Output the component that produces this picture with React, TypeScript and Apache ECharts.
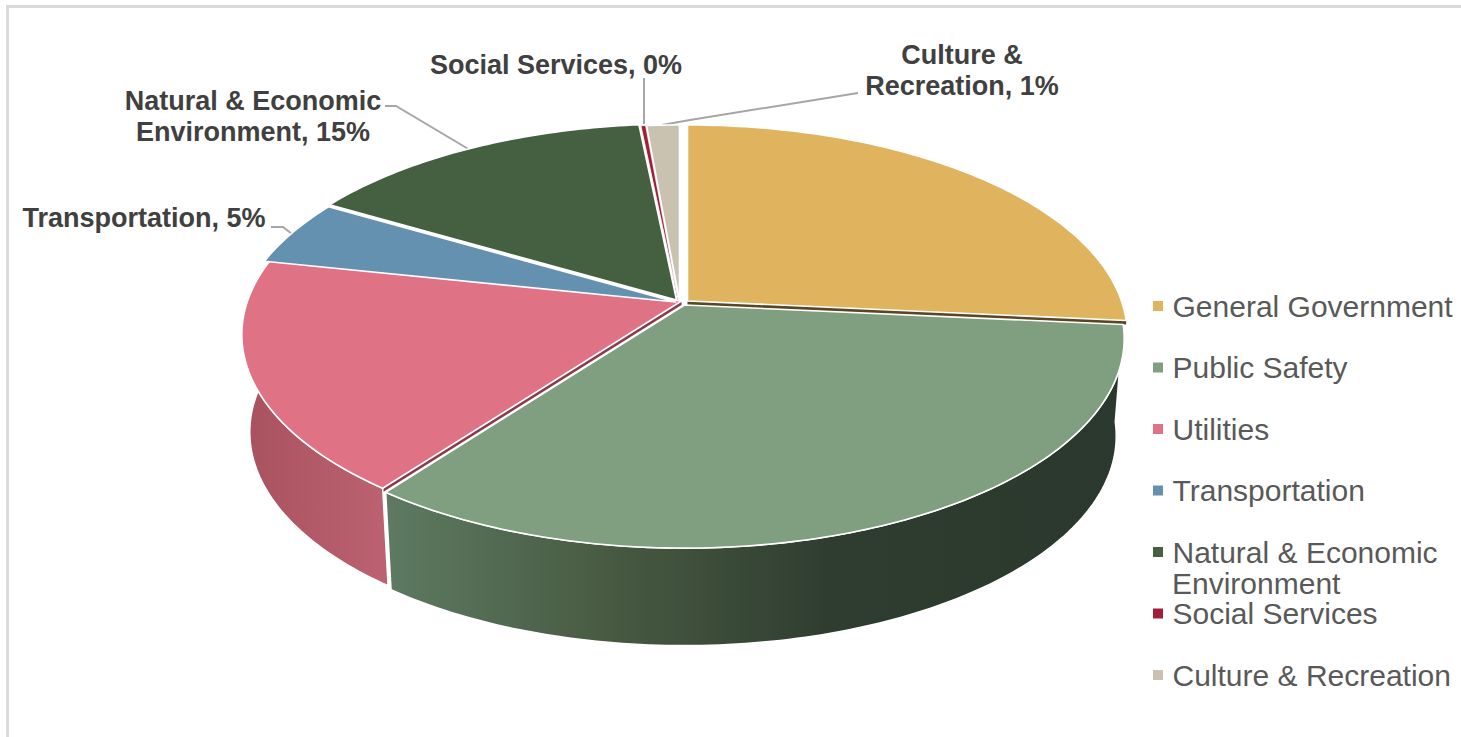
import React, { useEffect, useRef } from "react";
import * as echarts from "echarts";

const categories = [
  "General Government",
  "Public Safety",
  "Utilities",
  "Transportation",
  "Natural & Economic Environment",
  "Social Services",
  "Culture & Recreation",
];
// Shares (labels round them).
const shares = [26.5, 33.75, 18.05, 5.1, 15.0, 0.2, 1.4];
const colors = ["#E0B35F", "#7F9F80", "#E07285", "#6491B0", "#446041", "#A01E38", "#C9C2B1"];
const edgeColors = ["#5A4626", "#55705A", "#8A3A4C", "#3F5E72", "#2D3F2B", "#6A1425", "#8A8578"];
const sliceShift = [[4, -2], [1, 2], [-2, -2], [-8, -1], [-7, -3], [-5, -2], [-4, -2]];
const frontWalls = [1, 2];

const CX = 683.5, CY = 303, RX = 434, RY = 204.2, K = -0.16, DEPTH = 97.5, SHRINK = 0.982;

const total = shares.reduce((a, b) => a + b, 0);
const starts = shares.map((_, i) => shares.slice(0, i).reduce((a, b) => a + b, 0));

function rim(theta: number, s: number[]) {
  const u = Math.sin(theta), v = -Math.cos(theta);
  const d = 1 + K * v;
  return [CX + s[0] + (RX * u) / d, CY + s[1] + (RY * v) / d];
}
function arc(i: number, value: number) {
  const a0 = (starts[i] / total) * Math.PI * 2;
  const a1 = a0 + (value / total) * Math.PI * 2;
  const n = Math.max(4, Math.ceil(((a1 - a0) * 180) / Math.PI));
  const pts: number[][] = [];
  for (let j = 0; j <= n; j++) pts.push(rim(a0 + ((a1 - a0) * j) / n, sliceShift[i]));
  return pts;
}
const lower = (p: number[], depth: number) => [CX + (p[0] - CX) * SHRINK, p[1] + depth];

const wallFill = (i: number) => {
  if (i === 1)
    return {
      type: "linear", global: true, x: 385, y: 0, x2: 1125, y2: 0,
      colorStops: [
        { offset: 0, color: "#5E7A62" },
        { offset: 0.3, color: "#485A42" },
        { offset: 0.6, color: "#2F3D30" },
        { offset: 1, color: "#2B382D" },
      ],
    };
  return {
    type: "linear", global: true, x: 245, y: 0, x2: 390, y2: 0,
    colorStops: [
      { offset: 0, color: "#A9525F" },
      { offset: 1, color: "#BC6272" },
    ],
  };
};

const renderWall = (params: any, api: any) => {
  const i = params.dataIndex;
  const pts = arc(i, api.value(0));
  const apex = [CX + sliceShift[i][0], CY + sliceShift[i][1]];
  // The radial face that shows in the gap: the lower edge of the slice.
  const corner = i === 2 ? pts[0] : pts[pts.length - 1];
  const children: any[] = [
    {
      type: "polygon",
      shape: { points: [apex, corner, [corner[0], corner[1] + 4], [apex[0], apex[1] + 4]] },
      style: { fill: edgeColors[i] },
    },
  ];
  if (frontWalls.includes(i)) {
    const outer = [...pts, ...pts.slice().reverse().map((p) => lower(p, DEPTH))];
    children.push({
      type: "polygon",
      shape: { points: outer },
      style: { fill: wallFill(i), stroke: "#fff", lineWidth: 1.5 },
    });
  }
  return { type: "group", children };
};

const renderTop = (i: number) => (_: any, api: any) => {
  const pts = arc(i, api.value(0));
  const apex = [CX + sliceShift[i][0], CY + sliceShift[i][1]];
  return {
    type: "polygon",
    shape: { points: [apex, ...pts] },
    style: { fill: colors[i], stroke: "#fff", lineWidth: i === 5 ? 0.8 : 1.6, lineJoin: "round" },
  };
};

const pct = (i: number) => `${Math.round((shares[i] / total) * 100)}%`;
const F = "'Liberation Sans', Arial, sans-serif";
const labelFont = { fontFamily: F, fontWeight: "bold", fontSize: 27, lineHeight: 31, align: "center", verticalAlign: "middle" };

const label = (text: string, x: number, y: number, fill: string) => ({
  type: "text", x, y, silent: true, style: { ...labelFont, text, fill },
});
const leader = (points: number[][]) => ({
  type: "polyline", silent: true, shape: { points },
  style: { stroke: "#A6A6A6", lineWidth: 2, fill: "none" },
});

const App = () => {
  const ref = useRef<HTMLDivElement>(null);
  useEffect(() => {
    const chart = echarts.init(ref.current!, undefined, { renderer: "svg" });
    chart.setOption({
      animation: false,
      backgroundColor: "#fff",
      legend: {
        orient: "vertical",
        left: 1153,
        top: 291,
        padding: 0,
        itemWidth: 19,
        itemHeight: 10,
        itemGap: 31.5,
        icon: "path://M0 0h10v10h-10z",
        selectedMode: false,
        data: categories,
        formatter: (n: string) => (n.startsWith("Natural") ? "Natural & Economic" : n),
        textStyle: { fontFamily: F, fontSize: 30, color: "#595959" },
      },
      series: [
        {
          type: "custom", name: "walls", coordinateSystem: "none", silent: true,
          data: shares.map((v) => [v]), renderItem: renderWall,
        },
        ...categories.map((name, i) => ({
          type: "custom", name, coordinateSystem: "none", silent: true,
          itemStyle: { color: colors[i] },
          data: [[shares[i]]], renderItem: renderTop(i),
        })),
      ],
      graphic: [
        { type: "line", silent: true, shape: { x1: 6, y1: 6.5, x2: 1461, y2: 6.5 }, style: { stroke: "#D9D9D9", lineWidth: 3 } },
        { type: "line", silent: true, shape: { x1: 7.5, y1: 5, x2: 7.5, y2: 737 }, style: { stroke: "#D9D9D9", lineWidth: 3 } },
        leader([[385, 106], [396, 106], [470, 150]]),
        leader([[644, 78], [644, 124]]),
        leader([[858, 93], [690, 120], [662, 125]]),
        leader([[271, 227], [283, 227], [292, 234]]),
        label(`Social Services, ${pct(5)}`, 556, 64.5, "#404040"),
        label(`Culture &\nRecreation, ${pct(6)}`, 962, 70, "#404040"),
        label(`Natural & Economic\nEnvironment, ${pct(4)}`, 253, 116, "#404040"),
        label(`Transportation, ${pct(3)}`, 144, 217.5, "#404040"),
        label(`General Government,\n${pct(0)}`, 868, 230, "#000000"),
        label(`Utilities,  ${pct(2)}`, 388, 345, "#000000"),
        label(`Public Safety, ${pct(1)}`, 762, 470, "#FFFFFF"),
        {
          type: "text", x: 1172, y: 583, silent: true,
          style: { text: "Environment", fontFamily: F, fontSize: 30, fill: "#595959", verticalAlign: "middle" },
        },
      ],
    });
    return () => chart.dispose();
  }, []);
  return <div ref={ref} style={{ position: "absolute", left: 0, top: 0, width: 1461, height: 737 }} />;
};

export default App;
